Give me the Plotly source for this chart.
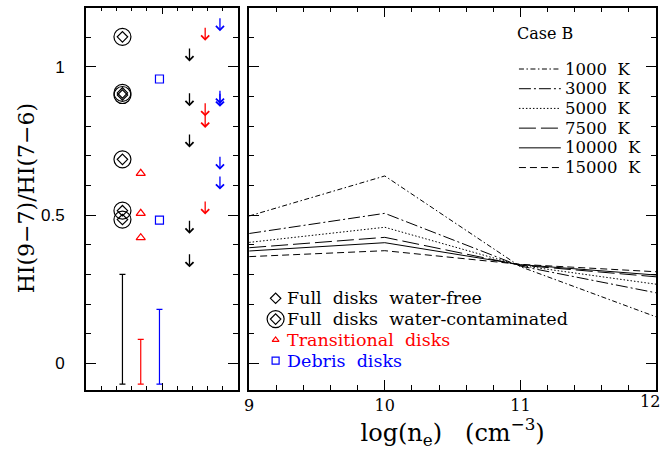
import plotly.graph_objects as go

# ---------------- Left panel data ----------------
cont_x = 2.4                                   # full disks, water-contaminated (circled diamonds)
cont_y = [1.101, 0.912, 0.905, 0.688, 0.515, 0.485]
trans_x = 3.6                                  # transitional disks (triangles)
trans_y = [0.641, 0.506, 0.424]
debris_x = 4.83                                # debris disks (squares)
debris_y = [0.959, 0.483]
full_lim_x = 6.8                               # upper limits, full disks
full_lim_y = [1.067, 0.916, 0.777, 0.486, 0.373]
trans_lim_x = 7.83                             # upper limits, transitional
trans_lim_y = [1.137, 0.882, 0.843, 0.551]
debris_lim_x = 8.8                             # upper limits, debris
debris_lim_y = [1.169, 0.924, 0.914, 0.702, 0.635]
err_x = [2.4, 3.6, 4.83]                       # typical error bars
err_lo = [-0.07, -0.07, -0.07]
err_hi = [0.300, 0.081, 0.182]

# ---------------- Right panel data (Case B) ----------------
log_ne = [9, 10, 11, 12]
x_tick_labels = ["9", "10", "11", "12"]
temp_labels = ["1000 K", "3000 K", "5000 K", "7500 K", "10000 K", "15000 K"]
ratio_1000 = [0.497, 0.632, 0.326, 0.157]
ratio_3000 = [0.438, 0.506, 0.328, 0.238]
ratio_5000 = [0.408, 0.459, 0.330, 0.267]
ratio_7500 = [0.390, 0.425, 0.331, 0.292]
ratio_10000 = [0.379, 0.407, 0.333, 0.298]
ratio_15000 = [0.360, 0.380, 0.334, 0.309]

legend_labels = ["Full disks water-free", "Full disks water-contaminated",
                 "Transitional disks", "Debris disks"]

# ---------------- styles ----------------
W, H = 666, 452
SERIF = "DejaVu Serif"
SANS = "Liberation Sans"
NB = "\u00a0"
dashes = ["5px,2.5px,1.5px,2.5px", "12px,3px,2px,3px", "1.5px,2px",
          "17px,5px", "solid", "7px,4px"]
lim_len = 0.049
yrange = [-0.088, 1.2]

fig = go.Figure()

# error bars
for x, lo, hi, c in zip(err_x, err_lo, err_hi, ["black", "red", "blue"]):
    fig.add_trace(go.Scatter(
        x=[x], y=[lo], mode="markers", marker=dict(size=1, opacity=0),
        error_y=dict(type="data", symmetric=False, array=[hi - lo], arrayminus=[0],
                     color=c, thickness=1.2, width=3),
        showlegend=False, hoverinfo="skip", xaxis="x", yaxis="y"))

# circled diamonds
fig.add_trace(go.Scatter(x=[cont_x] * len(cont_y), y=cont_y, mode="markers",
                         marker=dict(symbol="circle-open", size=17, color="black",
                                     line=dict(width=1.2, color="black")),
                         showlegend=False, xaxis="x", yaxis="y"))
fig.add_trace(go.Scatter(x=[cont_x] * len(cont_y), y=cont_y, mode="markers",
                         marker=dict(symbol="diamond-open", size=8, color="black",
                                     line=dict(width=1.2, color="black")),
                         showlegend=False, xaxis="x", yaxis="y"))
fig.add_trace(go.Scatter(x=[trans_x] * len(trans_y), y=trans_y, mode="markers",
                         marker=dict(symbol="triangle-up-open", size=8, color="red",
                                     line=dict(width=1.2, color="red")),
                         showlegend=False, xaxis="x", yaxis="y"))
fig.add_trace(go.Scatter(x=[debris_x] * len(debris_y), y=debris_y, mode="markers",
                         marker=dict(symbol="square-open", size=8, color="blue",
                                     line=dict(width=1.2, color="blue")),
                         showlegend=False, xaxis="x", yaxis="y"))

# upper-limit arrows
for xv, ys, c in [(full_lim_x, full_lim_y, "black"), (trans_lim_x, trans_lim_y, "red"),
                  (debris_lim_x, debris_lim_y, "blue")]:
    for yv in ys:
        fig.add_annotation(x=xv, y=yv - lim_len, ax=xv, ay=yv, xref="x", yref="y",
                           axref="x", ayref="y", text="", showarrow=True,
                           arrowhead=4, arrowsize=1.2, arrowwidth=1.3, arrowcolor=c)

# model curves
all_ratios = [ratio_1000, ratio_3000, ratio_5000, ratio_7500, ratio_10000, ratio_15000]
for lab, vals, d in zip(temp_labels, all_ratios, dashes):
    fig.add_trace(go.Scatter(x=log_ne, y=vals, mode="lines", name=lab,
                             line=dict(color="black", width=1, dash=d),
                             showlegend=False, xaxis="x2", yaxis="y2"))

# ---------------- manual legends on overlay axes (domain fractions) ----------------
# line-style legend
lx0, lx1, ltx = 0.663, 0.766, 0.771
ly0, ldy = 0.839, 0.0516
for i, (lab, d) in enumerate(zip(temp_labels, dashes)):
    yy = ly0 - i * ldy
    fig.add_trace(go.Scatter(x=[lx0, lx1], y=[yy, yy], mode="lines",
                             line=dict(color="black", width=1, dash=d),
                             showlegend=False, hoverinfo="skip", xaxis="x3", yaxis="y3"))
    fig.add_annotation(x=ltx, y=yy, xref="x3", yref="y3", text=lab.replace(" ", NB * 2),
                       showarrow=False, xanchor="left", yanchor="middle",
                       font=dict(family=SERIF, size=16.5, color="black"))
fig.add_annotation(x=0.654, y=0.9325, xref="x3", yref="y3", text="Case" + NB + "B",
                   showarrow=False, xanchor="left", yanchor="middle",
                   font=dict(family=SERIF, size=16, color="black"))

# symbol legend
mx, mtx = 0.065, 0.088
my0, mdy = 0.2387, 0.0544
sym_specs = [
    [("diamond-open", 8, "black")],
    [("circle-open", 17, "black"), ("diamond-open", 8, "black")],
    [("triangle-up-open", 6, "red")],
    [("square-open", 7, "blue")],
]
txt_colors = ["black", "black", "red", "blue"]
for i, (lab, specs, tc) in enumerate(zip(legend_labels, sym_specs, txt_colors)):
    yy = my0 - i * mdy
    for sym, sz, c in specs:
        fig.add_trace(go.Scatter(x=[mx], y=[yy], mode="markers",
                                 marker=dict(symbol=sym, size=sz, color=c,
                                             line=dict(width=1.2, color=c)),
                                 showlegend=False, hoverinfo="skip", xaxis="x3", yaxis="y3"))
    fig.add_annotation(x=mtx, y=yy, xref="x3", yref="y3", text=lab.replace(" ", NB * 2),
                       showarrow=False, xanchor="left", yanchor="middle",
                       font=dict(family=SERIF, size=17.5, color=tc))

# y-axis title (placed as rotated text to sit where the reference has it)
fig.add_annotation(x=22 / W, y=0.5 * (2 - (389.5 + 7.5) / H), xref="paper", yref="paper",
                   text="HI(9\u22127)/HI(7\u22126)", textangle=-90, showarrow=False,
                   xanchor="center", yanchor="middle",
                   font=dict(family=SERIF, size=22, color="black"))

# last x tick label kept inside the figure (right-aligned on its tick, as in the reference)
fig.add_annotation(x=log_ne[-1], y=0, xref="x2", yref="y2 domain", text=x_tick_labels[-1],
                   showarrow=False, xanchor="right", yanchor="middle", xshift=6, yshift=-12,
                   font=dict(family=SERIF, size=16, color="black"))

# ---------------- axes ----------------
common = dict(showline=True, linecolor="black", linewidth=1.6, mirror="allticks",
              ticks="inside", tickcolor="black", tickwidth=1, showgrid=False,
              zeroline=False)

xdomL = [81.5 / W, 235 / W]
xdomR = [246 / W, 656 / W]
ydom = [1 - 389.5 / H, 1 - 7.5 / H]

fig.update_layout(
    width=W, height=H, margin=dict(l=0, r=0, t=0, b=0),
    paper_bgcolor="white", plot_bgcolor="white", showlegend=False,
    xaxis=dict(common, domain=xdomL, range=[0, 10], anchor="y", tick0=0, dtick=5,
               ticklen=7, showticklabels=False,
               minor=dict(dtick=1, ticklen=4, ticks="inside", tickcolor="black")),
    yaxis=dict(common, domain=ydom, range=yrange, anchor="x",
               tickvals=[0, 0.5, 1], ticktext=["0", "0.5", "1"], ticklen=10,
               tickfont=dict(family=SANS, size=17, color="black"), ticklabelstandoff=16,
               minor=dict(dtick=0.1, tick0=0, ticklen=5, ticks="inside", tickcolor="black")),
    xaxis2=dict(common, domain=xdomR, range=[9, 12], anchor="y2",
                tickvals=log_ne[:-1], ticktext=x_tick_labels[:-1],
                ticklen=10, tickfont=dict(family=SERIF, size=16, color="black"),
                ticklabelstandoff=0,
                minor=dict(dtick=0.2, tick0=9, ticklen=5, ticks="inside", tickcolor="black"),
                title=dict(text="log(n<sub>e</sub>)" + NB * 3 + "(cm<sup>\u22123</sup>)",
                           font=dict(family=SERIF, size=24, color="black"), standoff=2)),
    yaxis2=dict(common, domain=ydom, range=yrange, anchor="x2", tickvals=[0, 0.5, 1],
                ticklen=10, showticklabels=False,
                minor=dict(dtick=0.1, tick0=0, ticklen=5, ticks="inside", tickcolor="black")),
    xaxis3=dict(overlaying="x2", range=[0, 1], visible=False, anchor="y3"),
    yaxis3=dict(overlaying="y2", range=[0, 1], visible=False, anchor="x3"),
)

fig.write_html("out.html")
